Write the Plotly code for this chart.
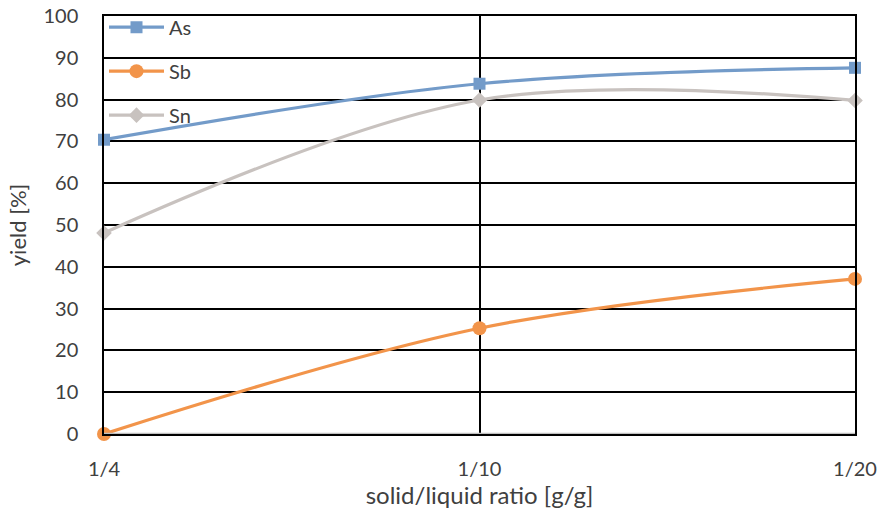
import plotly.graph_objects as go

ratios = ["1/4", "1/10", "1/20"]
as_yield = [70.4, 83.8, 87.6]
sb_yield = [0.0, 25.3, 37.1]
sn_yield = [48.1, 79.9, 79.8]
y_ticks = list(range(0, 101, 10))

FONT = "Lato, 'Open Sans', sans-serif"
TEXT = "#404040"

x_pos = list(range(len(ratios)))

series = [
    ("As", as_yield, "#739bc9", "square", 12),
    ("Sb", sb_yield, "#f2944a", "circle", 14),
    ("Sn", sn_yield, "#c8c2bf", "diamond", 12),
]

fig = go.Figure()
for name, vals, color, symbol, msize in series:
    fig.add_trace(go.Scatter(
        x=x_pos, y=vals, name=name, legendgroup=name,
        mode="lines+markers",
        line=dict(color=color, width=3.2, shape="spline", smoothing=1.0),
        marker=dict(color=color, symbol=symbol, size=msize),
        cliponaxis=False,
    ))

fig.update_layout(
    width=881, height=520,
    margin=dict(l=104, r=26, t=16, b=86, autoexpand=False),
    paper_bgcolor="white", plot_bgcolor="white",
    font=dict(family=FONT, size=20, color=TEXT),
    showlegend=True,
    legend=dict(
        x=0.0, y=1.02, xanchor="left", yanchor="top",
        bgcolor="rgba(0,0,0,0)", borderwidth=0,
        font=dict(size=20, color=TEXT),
        traceorder="grouped", tracegroupgap=15,
        itemwidth=55,
    ),
    xaxis=dict(
        range=[0, 2], tickmode="array", tickvals=x_pos, ticktext=ratios,
        showgrid=True, gridcolor="black", gridwidth=1.5,
        zeroline=False, showline=True, mirror=True,
        linecolor="black", linewidth=1.5, ticks="",
        automargin=False,
        ticklabelstandoff=16,
        title=dict(text="solid/liquid ratio [g/g]", standoff=6,
                   font=dict(size=24, color=TEXT)),
    ),
    yaxis=dict(
        range=[0, 100], tickmode="array", tickvals=y_ticks,
        showgrid=True, gridcolor="black", gridwidth=1.5,
        zeroline=False, showline=True, mirror=True,
        linecolor="black", linewidth=1.5, ticks="",
        automargin=False,
        ticklabelstandoff=20,
        title=dict(text="yield [%]", standoff=11,
                   font=dict(size=22, color=TEXT)),
    ),
)

# gray baseline along the bottom of the plot area
fig.add_shape(type="line", xref="paper", yref="y", x0=0, x1=1, y0=0, y1=0,
              line=dict(color="#bfbfbf", width=2.5), layer="above")

fig.write_html("out.html")
